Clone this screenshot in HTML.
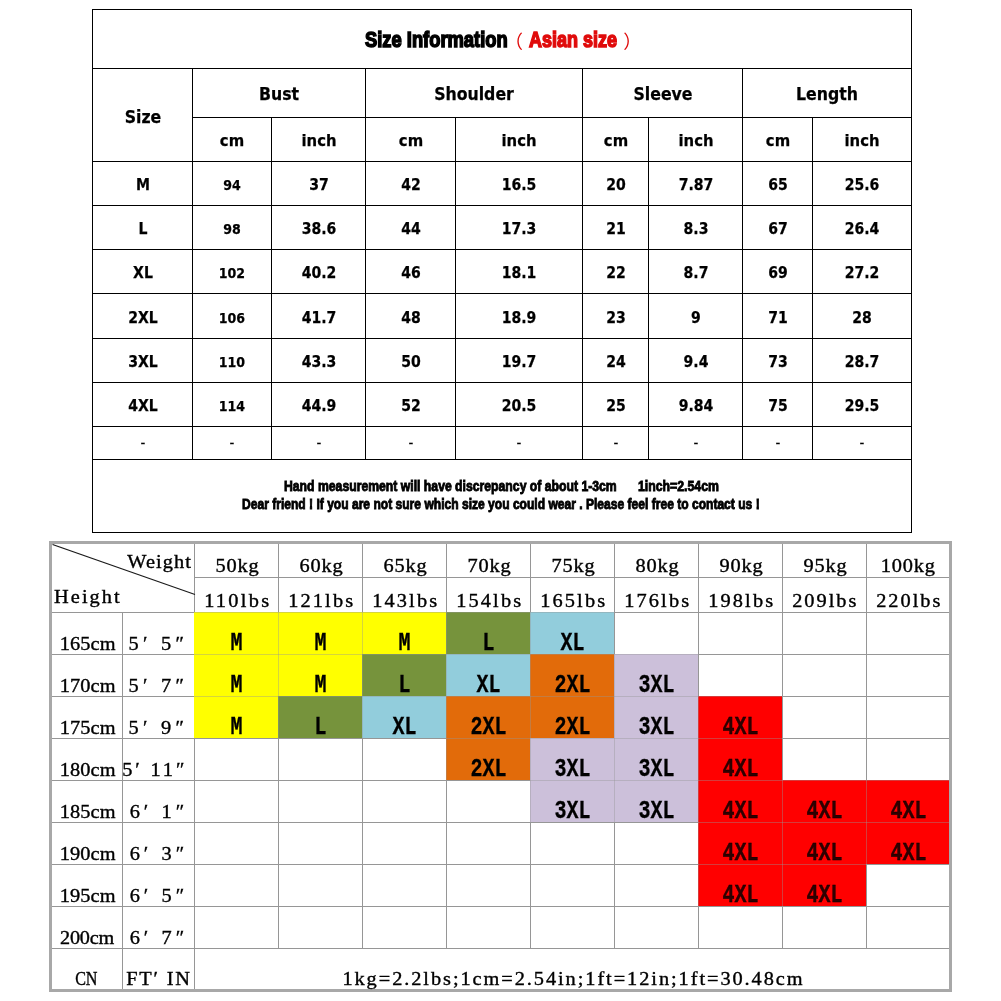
<!DOCTYPE html>
<html><head><meta charset="utf-8"><title>Size Information</title>
<style>
html,body{margin:0;padding:0;background:#fff;}
body{width:1001px;height:1001px;position:relative;overflow:hidden;font-family:"Liberation Sans",sans-serif;color:#000;}
.l{position:absolute;background:#000;}
.g{position:absolute;background:#969696;}
.g2{position:absolute;background:rgba(150,150,150,0.4);}
.c{position:absolute;}
.t{position:absolute;white-space:nowrap;text-align:center;font-family:"DejaVu Sans",sans-serif;font-stretch:normal;transform:scaleX(0.9);font-weight:bold;font-size:15.6px;line-height:20px;height:20px;-webkit-text-stroke:0.25px #000;}
.s{position:absolute;white-space:nowrap;text-align:center;font-family:"Liberation Serif","Noto Serif CJK SC",serif;font-size:18px;line-height:24px;height:24px;}
.s span{display:inline-block;transform-origin:50% 50%;-webkit-text-stroke:0.35px #000;}
.k{position:absolute;white-space:nowrap;text-align:center;font-family:"Liberation Mono",monospace;font-weight:bold;font-size:20px;line-height:30px;height:30px;width:84px;}
.k span{display:inline-block;transform:scaleY(1.27);-webkit-text-stroke:0.25px #000;}
.i{position:absolute;top:0;white-space:pre;font-weight:bold;transform-origin:0 50%;}
</style></head><body>

<div class="l" style="left:92px;top:9px;width:820px;height:1px"></div>
<div class="l" style="left:92px;top:68px;width:820px;height:1px"></div>
<div class="l" style="left:92px;top:161px;width:820px;height:1px"></div>
<div class="l" style="left:92px;top:205px;width:820px;height:1px"></div>
<div class="l" style="left:92px;top:249px;width:820px;height:1px"></div>
<div class="l" style="left:92px;top:293px;width:820px;height:1px"></div>
<div class="l" style="left:92px;top:338px;width:820px;height:1px"></div>
<div class="l" style="left:92px;top:382px;width:820px;height:1px"></div>
<div class="l" style="left:92px;top:426px;width:820px;height:1px"></div>
<div class="l" style="left:92px;top:459px;width:820px;height:1px"></div>
<div class="l" style="left:92px;top:532px;width:820px;height:1px"></div>
<div class="l" style="left:192px;top:117px;width:720px;height:1px"></div>
<div class="l" style="left:92px;top:9px;width:1px;height:524px"></div>
<div class="l" style="left:911px;top:9px;width:1px;height:524px"></div>
<div class="l" style="left:192px;top:68px;width:1px;height:391px"></div>
<div class="l" style="left:365px;top:68px;width:1px;height:391px"></div>
<div class="l" style="left:582px;top:68px;width:1px;height:391px"></div>
<div class="l" style="left:742px;top:68px;width:1px;height:391px"></div>
<div class="l" style="left:271px;top:117px;width:1px;height:342px"></div>
<div class="l" style="left:455px;top:117px;width:1px;height:342px"></div>
<div class="l" style="left:648px;top:117px;width:1px;height:342px"></div>
<div class="l" style="left:812px;top:117px;width:1px;height:342px"></div>
<div class="c" style="left:0;top:25px;width:1001px;height:30px;line-height:30px;"><span class="i" style="left:364.5px;font-size:21.2px;transform:scaleX(0.8654);color:#000;-webkit-text-stroke:1.5px #000;">Size Information</span><span style="position:absolute;left:504.5px;top:2.2px;color:#e00b0b;font-family:'Liberation Sans','Noto Sans CJK SC',sans-serif;font-size:18.5px;">（</span><span class="i" style="left:528.5px;font-size:21.2px;transform:scaleX(0.8486);color:#e00b0b;-webkit-text-stroke:1.5px #e00b0b;">Asian size</span><span style="position:absolute;left:623.2px;top:2.2px;color:#e00b0b;font-family:'Liberation Sans','Noto Sans CJK SC',sans-serif;font-size:18.5px;">）</span></div>
<div class="t" style="left:42.5px;top:106.5px;width:200px;font-size:17.5px">Size</div>
<div class="t" style="left:179px;top:84px;width:200px;font-size:17.5px">Bust</div>
<div class="t" style="left:374px;top:84px;width:200px;font-size:17.5px">Shoulder</div>
<div class="t" style="left:562.5px;top:84px;width:200px;font-size:17.5px">Sleeve</div>
<div class="t" style="left:727px;top:84px;width:200px;font-size:17.5px">Length</div>
<div class="t" style="left:132px;top:131px;width:200px;font-size:16.5px">cm</div>
<div class="t" style="left:218.5px;top:131px;width:200px;font-size:16.5px">inch</div>
<div class="t" style="left:310.5px;top:131px;width:200px;font-size:16.5px">cm</div>
<div class="t" style="left:419px;top:131px;width:200px;font-size:16.5px">inch</div>
<div class="t" style="left:515.5px;top:131px;width:200px;font-size:16.5px">cm</div>
<div class="t" style="left:595.5px;top:131px;width:200px;font-size:16.5px">inch</div>
<div class="t" style="left:677.5px;top:131px;width:200px;font-size:16.5px">cm</div>
<div class="t" style="left:762px;top:131px;width:200px;font-size:16.5px">inch</div>
<div class="t" style="left:42.5px;top:174.5px;width:200px;">M</div>
<div class="t" style="left:132px;top:174.5px;width:200px;font-size:14px">94</div>
<div class="t" style="left:218.5px;top:174.5px;width:200px;">37</div>
<div class="t" style="left:310.5px;top:174.5px;width:200px;">42</div>
<div class="t" style="left:419px;top:174.5px;width:200px;">16.5</div>
<div class="t" style="left:515.5px;top:174.5px;width:200px;">20</div>
<div class="t" style="left:595.5px;top:174.5px;width:200px;">7.87</div>
<div class="t" style="left:677.5px;top:174.5px;width:200px;">65</div>
<div class="t" style="left:762px;top:174.5px;width:200px;">25.6</div>
<div class="t" style="left:42.5px;top:218.5px;width:200px;">L</div>
<div class="t" style="left:132px;top:218.5px;width:200px;font-size:14px">98</div>
<div class="t" style="left:218.5px;top:218.5px;width:200px;">38.6</div>
<div class="t" style="left:310.5px;top:218.5px;width:200px;">44</div>
<div class="t" style="left:419px;top:218.5px;width:200px;">17.3</div>
<div class="t" style="left:515.5px;top:218.5px;width:200px;">21</div>
<div class="t" style="left:595.5px;top:218.5px;width:200px;">8.3</div>
<div class="t" style="left:677.5px;top:218.5px;width:200px;">67</div>
<div class="t" style="left:762px;top:218.5px;width:200px;">26.4</div>
<div class="t" style="left:42.5px;top:262.5px;width:200px;">XL</div>
<div class="t" style="left:132px;top:262.5px;width:200px;font-size:14px">102</div>
<div class="t" style="left:218.5px;top:262.5px;width:200px;">40.2</div>
<div class="t" style="left:310.5px;top:262.5px;width:200px;">46</div>
<div class="t" style="left:419px;top:262.5px;width:200px;">18.1</div>
<div class="t" style="left:515.5px;top:262.5px;width:200px;">22</div>
<div class="t" style="left:595.5px;top:262.5px;width:200px;">8.7</div>
<div class="t" style="left:677.5px;top:262.5px;width:200px;">69</div>
<div class="t" style="left:762px;top:262.5px;width:200px;">27.2</div>
<div class="t" style="left:42.5px;top:307.8px;width:200px;">2XL</div>
<div class="t" style="left:132px;top:307.8px;width:200px;font-size:14px">106</div>
<div class="t" style="left:218.5px;top:307.8px;width:200px;">41.7</div>
<div class="t" style="left:310.5px;top:307.8px;width:200px;">48</div>
<div class="t" style="left:419px;top:307.8px;width:200px;">18.9</div>
<div class="t" style="left:515.5px;top:307.8px;width:200px;">23</div>
<div class="t" style="left:595.5px;top:307.8px;width:200px;">9</div>
<div class="t" style="left:677.5px;top:307.8px;width:200px;">71</div>
<div class="t" style="left:762px;top:307.8px;width:200px;">28</div>
<div class="t" style="left:42.5px;top:351.5px;width:200px;">3XL</div>
<div class="t" style="left:132px;top:351.5px;width:200px;font-size:14px">110</div>
<div class="t" style="left:218.5px;top:351.5px;width:200px;">43.3</div>
<div class="t" style="left:310.5px;top:351.5px;width:200px;">50</div>
<div class="t" style="left:419px;top:351.5px;width:200px;">19.7</div>
<div class="t" style="left:515.5px;top:351.5px;width:200px;">24</div>
<div class="t" style="left:595.5px;top:351.5px;width:200px;">9.4</div>
<div class="t" style="left:677.5px;top:351.5px;width:200px;">73</div>
<div class="t" style="left:762px;top:351.5px;width:200px;">28.7</div>
<div class="t" style="left:42.5px;top:395.5px;width:200px;">4XL</div>
<div class="t" style="left:132px;top:395.5px;width:200px;font-size:14px">114</div>
<div class="t" style="left:218.5px;top:395.5px;width:200px;">44.9</div>
<div class="t" style="left:310.5px;top:395.5px;width:200px;">52</div>
<div class="t" style="left:419px;top:395.5px;width:200px;">20.5</div>
<div class="t" style="left:515.5px;top:395.5px;width:200px;">25</div>
<div class="t" style="left:595.5px;top:395.5px;width:200px;">9.84</div>
<div class="t" style="left:677.5px;top:395.5px;width:200px;">75</div>
<div class="t" style="left:762px;top:395.5px;width:200px;">29.5</div>
<div class="t" style="left:42.5px;top:432.7px;width:200px;font-weight:normal;-webkit-text-stroke:0.15px #000;font-size:15px">-</div>
<div class="t" style="left:132px;top:432.7px;width:200px;font-weight:normal;-webkit-text-stroke:0.15px #000;font-size:15px">-</div>
<div class="t" style="left:218.5px;top:432.7px;width:200px;font-weight:normal;-webkit-text-stroke:0.15px #000;font-size:15px">-</div>
<div class="t" style="left:310.5px;top:432.7px;width:200px;font-weight:normal;-webkit-text-stroke:0.15px #000;font-size:15px">-</div>
<div class="t" style="left:419px;top:432.7px;width:200px;font-weight:normal;-webkit-text-stroke:0.15px #000;font-size:15px">-</div>
<div class="t" style="left:515.5px;top:432.7px;width:200px;font-weight:normal;-webkit-text-stroke:0.15px #000;font-size:15px">-</div>
<div class="t" style="left:595.5px;top:432.7px;width:200px;font-weight:normal;-webkit-text-stroke:0.15px #000;font-size:15px">-</div>
<div class="t" style="left:677.5px;top:432.7px;width:200px;font-weight:normal;-webkit-text-stroke:0.15px #000;font-size:15px">-</div>
<div class="t" style="left:762px;top:432.7px;width:200px;font-weight:normal;-webkit-text-stroke:0.15px #000;font-size:15px">-</div>
<div class="c" style="left:0;top:476.5px;width:1001px;height:18px;line-height:18px;"><span class="i" style="left:284.2px;font-size:14.2px;transform:scaleX(0.8612);color:#000;-webkit-text-stroke:0.85px #000;">Hand measurement will have discrepancy of about 1-3cm</span><span class="i" style="left:638.2px;font-size:14.2px;transform:scaleX(0.8659);color:#000;-webkit-text-stroke:0.85px #000;">1inch=2.54cm</span></div>
<div class="c" style="left:0;top:495px;width:1001px;height:18px;line-height:18px;"><span class="i" style="left:242.3px;font-size:14.2px;transform:scaleX(0.8505);color:#000;-webkit-text-stroke:0.85px #000;">Dear friend ! If you are not sure which size you could wear . Please feel free to contact us !</span></div>
<div class="g" style="left:52px;top:612px;width:898px;height:1px"></div>
<div class="g" style="left:52px;top:654px;width:898px;height:1px"></div>
<div class="g" style="left:52px;top:696px;width:898px;height:1px"></div>
<div class="g" style="left:52px;top:738px;width:898px;height:1px"></div>
<div class="g" style="left:52px;top:780px;width:898px;height:1px"></div>
<div class="g" style="left:52px;top:822px;width:898px;height:1px"></div>
<div class="g" style="left:52px;top:864px;width:898px;height:1px"></div>
<div class="g" style="left:52px;top:906px;width:898px;height:1px"></div>
<div class="g" style="left:52px;top:948px;width:898px;height:1px"></div>
<div class="g" style="left:194px;top:577px;width:756px;height:1px"></div>
<div class="g" style="left:122px;top:612px;width:1px;height:378px"></div>
<div class="g" style="left:194px;top:544px;width:1px;height:446px"></div>
<div class="g" style="left:278px;top:544px;width:1px;height:404px"></div>
<div class="g" style="left:362px;top:544px;width:1px;height:404px"></div>
<div class="g" style="left:446px;top:544px;width:1px;height:404px"></div>
<div class="g" style="left:530px;top:544px;width:1px;height:404px"></div>
<div class="g" style="left:614px;top:544px;width:1px;height:404px"></div>
<div class="g" style="left:698px;top:544px;width:1px;height:404px"></div>
<div class="g" style="left:782px;top:544px;width:1px;height:404px"></div>
<div class="g" style="left:866px;top:544px;width:1px;height:404px"></div>
<div class="c" style="left:194px;top:612px;width:84px;height:42px;background:#ffff00"></div>
<div class="c" style="left:278px;top:612px;width:84px;height:42px;background:#ffff00"></div>
<div class="c" style="left:362px;top:612px;width:84px;height:42px;background:#ffff00"></div>
<div class="c" style="left:446px;top:612px;width:84px;height:42px;background:#76933c"></div>
<div class="c" style="left:530px;top:612px;width:84px;height:42px;background:#92cddc"></div>
<div class="c" style="left:194px;top:654px;width:84px;height:42px;background:#ffff00"></div>
<div class="c" style="left:278px;top:654px;width:84px;height:42px;background:#ffff00"></div>
<div class="c" style="left:362px;top:654px;width:84px;height:42px;background:#76933c"></div>
<div class="c" style="left:446px;top:654px;width:84px;height:42px;background:#92cddc"></div>
<div class="c" style="left:530px;top:654px;width:84px;height:42px;background:#e26b0a"></div>
<div class="c" style="left:614px;top:654px;width:84px;height:42px;background:#ccc0da"></div>
<div class="c" style="left:194px;top:696px;width:84px;height:42px;background:#ffff00"></div>
<div class="c" style="left:278px;top:696px;width:84px;height:42px;background:#76933c"></div>
<div class="c" style="left:362px;top:696px;width:84px;height:42px;background:#92cddc"></div>
<div class="c" style="left:446px;top:696px;width:84px;height:42px;background:#e26b0a"></div>
<div class="c" style="left:530px;top:696px;width:84px;height:42px;background:#e26b0a"></div>
<div class="c" style="left:614px;top:696px;width:84px;height:42px;background:#ccc0da"></div>
<div class="c" style="left:698px;top:696px;width:84px;height:42px;background:#ff0000"></div>
<div class="c" style="left:446px;top:738px;width:84px;height:42px;background:#e26b0a"></div>
<div class="c" style="left:530px;top:738px;width:84px;height:42px;background:#ccc0da"></div>
<div class="c" style="left:614px;top:738px;width:84px;height:42px;background:#ccc0da"></div>
<div class="c" style="left:698px;top:738px;width:84px;height:42px;background:#ff0000"></div>
<div class="c" style="left:530px;top:780px;width:84px;height:42px;background:#ccc0da"></div>
<div class="c" style="left:614px;top:780px;width:84px;height:42px;background:#ccc0da"></div>
<div class="c" style="left:698px;top:780px;width:84px;height:42px;background:#ff0000"></div>
<div class="c" style="left:782px;top:780px;width:84px;height:42px;background:#ff0000"></div>
<div class="c" style="left:866px;top:780px;width:84px;height:42px;background:#ff0000"></div>
<div class="c" style="left:698px;top:822px;width:84px;height:42px;background:#ff0000"></div>
<div class="c" style="left:782px;top:822px;width:84px;height:42px;background:#ff0000"></div>
<div class="c" style="left:866px;top:822px;width:84px;height:42px;background:#ff0000"></div>
<div class="c" style="left:698px;top:864px;width:84px;height:42px;background:#ff0000"></div>
<div class="c" style="left:782px;top:864px;width:84px;height:42px;background:#ff0000"></div>
<div class="g2" style="left:194px;top:612px;width:756px;height:1px"></div>
<div class="g2" style="left:194px;top:654px;width:756px;height:1px"></div>
<div class="g2" style="left:194px;top:696px;width:756px;height:1px"></div>
<div class="g2" style="left:194px;top:738px;width:756px;height:1px"></div>
<div class="g2" style="left:194px;top:780px;width:756px;height:1px"></div>
<div class="g2" style="left:194px;top:822px;width:756px;height:1px"></div>
<div class="g2" style="left:194px;top:864px;width:756px;height:1px"></div>
<div class="g2" style="left:194px;top:906px;width:756px;height:1px"></div>
<div class="g2" style="left:278px;top:612px;width:1px;height:294px"></div>
<div class="g2" style="left:362px;top:612px;width:1px;height:294px"></div>
<div class="g2" style="left:446px;top:612px;width:1px;height:294px"></div>
<div class="g2" style="left:530px;top:612px;width:1px;height:294px"></div>
<div class="g2" style="left:614px;top:612px;width:1px;height:294px"></div>
<div class="g2" style="left:698px;top:612px;width:1px;height:294px"></div>
<div class="g2" style="left:782px;top:612px;width:1px;height:294px"></div>
<div class="g2" style="left:866px;top:612px;width:1px;height:294px"></div>
<div class="c" style="left:49px;top:541px;width:897px;height:445px;border:3px solid #a8a8a8;"></div>
<svg class="c" style="left:52px;top:543.6px" width="144" height="52" viewBox="0 0 144 52"><line x1="0.5" y1="0.5" x2="143" y2="50.5" stroke="#1a1a1a" stroke-width="1.15"/></svg>
<div class="s" id="s0" style="left:-191.15px;top:549.52px;width:700px;"><span style="transform:scaleX(1.130);letter-spacing:0.967px;margin-right:-0.967px">Weight</span></div>
<div class="s" id="s1" style="left:-263.25px;top:585.32px;width:700px;"><span style="transform:scaleX(1.130);letter-spacing:1.795px;margin-right:-1.795px">Height</span></div>
<div class="s" id="s2" style="left:-113.20px;top:554.42px;width:700px;"><span style="transform:scaleX(1.130);letter-spacing:0.743px;margin-right:-0.743px">50kg</span></div>
<div class="s" id="s3" style="left:-113.60px;top:589.42px;width:700px;"><span style="transform:scaleX(1.130);letter-spacing:2.036px;margin-right:-2.036px">110lbs</span></div>
<div class="s" id="s4" style="left:-29.20px;top:554.42px;width:700px;"><span style="transform:scaleX(1.130);letter-spacing:0.743px;margin-right:-0.743px">60kg</span></div>
<div class="s" id="s5" style="left:-29.60px;top:589.42px;width:700px;"><span style="transform:scaleX(1.130);letter-spacing:1.903px;margin-right:-1.903px">121lbs</span></div>
<div class="s" id="s6" style="left:54.80px;top:554.42px;width:700px;"><span style="transform:scaleX(1.130);letter-spacing:0.743px;margin-right:-0.743px">65kg</span></div>
<div class="s" id="s7" style="left:54.40px;top:589.42px;width:700px;"><span style="transform:scaleX(1.130);letter-spacing:1.903px;margin-right:-1.903px">143lbs</span></div>
<div class="s" id="s8" style="left:138.80px;top:554.42px;width:700px;"><span style="transform:scaleX(1.130);letter-spacing:0.743px;margin-right:-0.743px">70kg</span></div>
<div class="s" id="s9" style="left:138.40px;top:589.42px;width:700px;"><span style="transform:scaleX(1.130);letter-spacing:1.903px;margin-right:-1.903px">154lbs</span></div>
<div class="s" id="s10" style="left:222.80px;top:554.42px;width:700px;"><span style="transform:scaleX(1.130);letter-spacing:0.743px;margin-right:-0.743px">75kg</span></div>
<div class="s" id="s11" style="left:222.40px;top:589.42px;width:700px;"><span style="transform:scaleX(1.130);letter-spacing:1.903px;margin-right:-1.903px">165lbs</span></div>
<div class="s" id="s12" style="left:306.80px;top:554.42px;width:700px;"><span style="transform:scaleX(1.130);letter-spacing:0.743px;margin-right:-0.743px">80kg</span></div>
<div class="s" id="s13" style="left:306.40px;top:589.42px;width:700px;"><span style="transform:scaleX(1.130);letter-spacing:1.903px;margin-right:-1.903px">176lbs</span></div>
<div class="s" id="s14" style="left:390.80px;top:554.42px;width:700px;"><span style="transform:scaleX(1.130);letter-spacing:0.743px;margin-right:-0.743px">90kg</span></div>
<div class="s" id="s15" style="left:390.40px;top:589.42px;width:700px;"><span style="transform:scaleX(1.130);letter-spacing:1.903px;margin-right:-1.903px">198lbs</span></div>
<div class="s" id="s16" style="left:474.80px;top:554.42px;width:700px;"><span style="transform:scaleX(1.130);letter-spacing:0.743px;margin-right:-0.743px">95kg</span></div>
<div class="s" id="s17" style="left:474.80px;top:589.42px;width:700px;"><span style="transform:scaleX(1.130);letter-spacing:1.762px;margin-right:-1.762px">209lbs</span></div>
<div class="s" id="s18" style="left:558.40px;top:554.42px;width:700px;"><span style="transform:scaleX(1.130);letter-spacing:0.697px;margin-right:-0.697px">100kg</span></div>
<div class="s" id="s19" style="left:558.80px;top:589.42px;width:700px;"><span style="transform:scaleX(1.130);letter-spacing:1.762px;margin-right:-1.762px">220lbs</span></div>
<div class="s" id="s20" style="left:-262.65px;top:631.52px;width:700px;"><span style="transform:scaleX(1.130);letter-spacing:0.075px;margin-right:-0.075px">165cm</span></div>
<div class="s" id="s21" style="left:-193.50px;top:631.52px;width:700px;"><span style="transform:scaleX(1.130);letter-spacing:3.773px;margin-right:-3.773px">5′ 5″</span></div>
<div class="s" id="s22" style="left:-262.65px;top:673.52px;width:700px;"><span style="transform:scaleX(1.130);letter-spacing:0.075px;margin-right:-0.075px">170cm</span></div>
<div class="s" id="s23" style="left:-193.50px;top:673.52px;width:700px;"><span style="transform:scaleX(1.130);letter-spacing:3.773px;margin-right:-3.773px">5′ 7″</span></div>
<div class="s" id="s24" style="left:-262.65px;top:715.52px;width:700px;"><span style="transform:scaleX(1.130);letter-spacing:0.075px;margin-right:-0.075px">175cm</span></div>
<div class="s" id="s25" style="left:-193.50px;top:715.52px;width:700px;"><span style="transform:scaleX(1.130);letter-spacing:3.773px;margin-right:-3.773px">5′ 9″</span></div>
<div class="s" id="s26" style="left:-262.65px;top:757.52px;width:700px;"><span style="transform:scaleX(1.130);letter-spacing:0.075px;margin-right:-0.075px">180cm</span></div>
<div class="s" id="s27" style="left:-196.65px;top:757.52px;width:700px;"><span style="transform:scaleX(1.130);letter-spacing:2.537px;margin-right:-2.537px">5′ 11″</span></div>
<div class="s" id="s28" style="left:-262.65px;top:799.52px;width:700px;"><span style="transform:scaleX(1.130);letter-spacing:0.075px;margin-right:-0.075px">185cm</span></div>
<div class="s" id="s29" style="left:-193.10px;top:799.52px;width:700px;"><span style="transform:scaleX(1.130);letter-spacing:3.596px;margin-right:-3.596px">6′ 1″</span></div>
<div class="s" id="s30" style="left:-262.65px;top:841.52px;width:700px;"><span style="transform:scaleX(1.130);letter-spacing:0.075px;margin-right:-0.075px">190cm</span></div>
<div class="s" id="s31" style="left:-193.10px;top:841.52px;width:700px;"><span style="transform:scaleX(1.130);letter-spacing:3.596px;margin-right:-3.596px">6′ 3″</span></div>
<div class="s" id="s32" style="left:-262.65px;top:883.52px;width:700px;"><span style="transform:scaleX(1.130);letter-spacing:0.075px;margin-right:-0.075px">195cm</span></div>
<div class="s" id="s33" style="left:-193.10px;top:883.52px;width:700px;"><span style="transform:scaleX(1.130);letter-spacing:3.596px;margin-right:-3.596px">6′ 5″</span></div>
<div class="s" id="s34" style="left:-262.65px;top:925.52px;width:700px;"><span style="transform:scaleX(1.123);letter-spacing:-0.200px;margin-right:0.200px">200cm</span></div>
<div class="s" id="s35" style="left:-193.10px;top:925.52px;width:700px;"><span style="transform:scaleX(1.130);letter-spacing:3.596px;margin-right:-3.596px">6′ 7″</span></div>
<div class="s" id="s36" style="left:-263.20px;top:966.92px;width:700px;"><span style="transform:scaleX(0.895);letter-spacing:-0.200px;margin-right:0.200px">CN</span></div>
<div class="s" id="s37" style="left:-191.95px;top:966.92px;width:700px;"><span style="transform:scaleX(1.130);letter-spacing:1.587px;margin-right:-1.587px">FT′ IN</span></div>
<div class="s" id="s38" style="left:222.70px;top:966.92px;width:700px;"><span style="transform:scaleX(1.130);letter-spacing:1.711px;margin-right:-1.711px">1kg=2.2lbs;1cm=2.54in;1ft=12in;1ft=30.48cm</span></div>
<div class="k" style="left:194.5px;top:628.6px"><span>M</span></div>
<div class="k" style="left:278.5px;top:628.6px"><span>M</span></div>
<div class="k" style="left:362.5px;top:628.6px"><span>M</span></div>
<div class="k" style="left:446.5px;top:628.6px"><span>L</span></div>
<div class="k" style="left:530.5px;top:628.6px"><span>XL</span></div>
<div class="k" style="left:194.5px;top:670.6px"><span>M</span></div>
<div class="k" style="left:278.5px;top:670.6px"><span>M</span></div>
<div class="k" style="left:362.5px;top:670.6px"><span>L</span></div>
<div class="k" style="left:446.5px;top:670.6px"><span>XL</span></div>
<div class="k" style="left:530.5px;top:670.6px"><span>2XL</span></div>
<div class="k" style="left:614.5px;top:670.6px"><span>3XL</span></div>
<div class="k" style="left:194.5px;top:712.6px"><span>M</span></div>
<div class="k" style="left:278.5px;top:712.6px"><span>L</span></div>
<div class="k" style="left:362.5px;top:712.6px"><span>XL</span></div>
<div class="k" style="left:446.5px;top:712.6px"><span>2XL</span></div>
<div class="k" style="left:530.5px;top:712.6px"><span>2XL</span></div>
<div class="k" style="left:614.5px;top:712.6px"><span>3XL</span></div>
<div class="k" style="left:698.5px;top:712.6px;color:#2e0000"><span>4XL</span></div>
<div class="k" style="left:446.5px;top:754.6px"><span>2XL</span></div>
<div class="k" style="left:530.5px;top:754.6px"><span>3XL</span></div>
<div class="k" style="left:614.5px;top:754.6px"><span>3XL</span></div>
<div class="k" style="left:698.5px;top:754.6px;color:#2e0000"><span>4XL</span></div>
<div class="k" style="left:530.5px;top:796.6px"><span>3XL</span></div>
<div class="k" style="left:614.5px;top:796.6px"><span>3XL</span></div>
<div class="k" style="left:698.5px;top:796.6px;color:#2e0000"><span>4XL</span></div>
<div class="k" style="left:782.5px;top:796.6px;color:#2e0000"><span>4XL</span></div>
<div class="k" style="left:866.5px;top:796.6px;color:#2e0000"><span>4XL</span></div>
<div class="k" style="left:698.5px;top:838.6px;color:#2e0000"><span>4XL</span></div>
<div class="k" style="left:782.5px;top:838.6px;color:#2e0000"><span>4XL</span></div>
<div class="k" style="left:866.5px;top:838.6px;color:#2e0000"><span>4XL</span></div>
<div class="k" style="left:698.5px;top:880.6px;color:#2e0000"><span>4XL</span></div>
<div class="k" style="left:782.5px;top:880.6px;color:#2e0000"><span>4XL</span></div>
</body></html>
